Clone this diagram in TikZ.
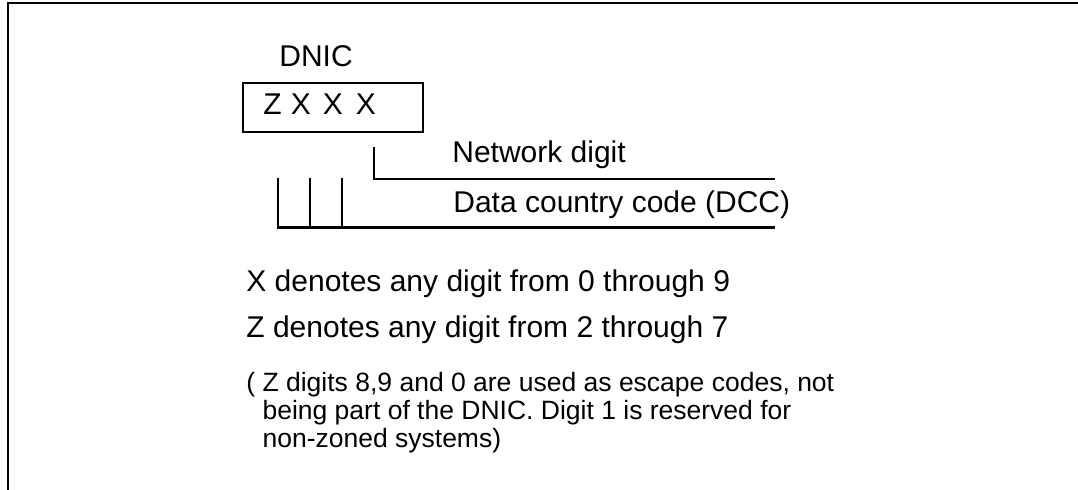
\documentclass[tikz,border=0pt]{standalone}
\usepackage{fontspec}
\setmainfont{Liberation Sans}
\begin{document}
\begin{tikzpicture}[x=0.5pt,y=-0.5pt,
  rule/.style={line width=1.1pt},
  big/.style={font=\fontsize{15}{18}\selectfont, inner sep=0pt, anchor=base west},
  digit/.style={font=\fontsize{15}{18}\selectfont, inner sep=0pt, anchor=base},
  small/.style={font=\fontsize{13.25}{14}\selectfont, inner sep=0pt, anchor=base west, align=left}]
\useasboundingbox (0,0) rectangle (1078,490);

% outer frame (open on the right and bottom)
\draw[line width=1.15pt] (8,495) -- (8,3) -- (1083,3);

% DNIC heading and digit box
\node[big] (dnic) at (279,67) {DNIC};
\node[draw, rule, inner sep=0pt, minimum width=90pt, minimum height=24.5pt] (dnicbox) at (333,107.5) {};
\node[digit] (z1) at (272.5,115) {Z};
\node[digit] (x1) at (301,115) {X};
\node[digit] (x2) at (333,115) {X};
\node[digit] (x3) at (366,115) {X};

% network digit bracket
\coordinate (n0) at (374,147);
\coordinate (n1) at (775,179);
\draw[rule] (n0) |- (n1);

% data country code bracket
\coordinate (d1) at (278,178);
\coordinate (d2) at (310,178);
\coordinate (d3) at (342,178);
\coordinate (dend) at (775,227.5);
\draw[rule] (d1) |- (dend);
\draw[rule] (d2) -- (d2 |- dend);
\draw[rule] (d3) -- (d3 |- dend);

% labels
\node[big] (net) at (452,163) {Network digit};
\node[big] (dcc) at (453,213) {Data country code (DCC)};
\node[big] (xdef) at (246,292) {X denotes any digit from 0 through 9};
\node[big] (zdef) at (246,338) {Z denotes any digit from 2 through 7};
% the base anchor of a multi-line node sits on its last line
\node[small] (note) at (246,448) {( Z digits 8,9 and 0 are used as escape codes, not\\
  \hphantom{(\ }being part of the DNIC. Digit 1 is reserved for\\
  \hphantom{(\ }non-zoned systems)};
\end{tikzpicture}
\end{document}
